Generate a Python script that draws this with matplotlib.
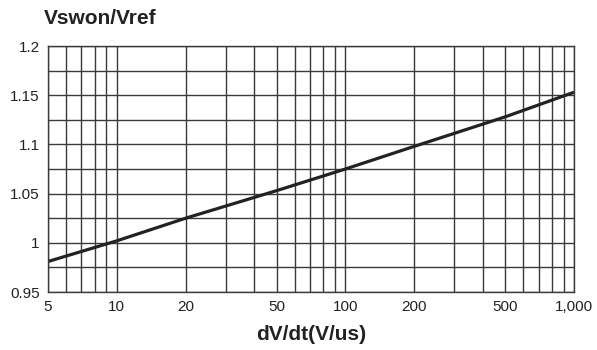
import numpy as np
import matplotlib.pyplot as plt
from matplotlib.ticker import FixedLocator, FixedFormatter, NullFormatter

plt.rcParams['font.family'] = ['Liberation Sans', 'DejaVu Sans']

# curve
dvdt = [5, 10, 20, 50, 100, 200, 500, 1000]
ratio = [0.981, 1.002, 1.025, 1.053, 1.075, 1.098, 1.128, 1.153]

x_ticks = [5, 10, 20, 50, 100, 200, 500, 1000]
x_labels = ['5', '10', '20', '50', '100', '200', '500', '1,000']
x_minor = [6, 7, 8, 9, 30, 40, 60, 70, 80, 90, 300, 400, 600, 700, 800, 900]
y_ticks = [0.95, 1.0, 1.05, 1.1, 1.15, 1.2]
y_labels = ['0.95', '1', '1.05', '1.1', '1.15', '1.2']
y_minor = [0.975, 1.025, 1.075, 1.125, 1.175]

fig = plt.figure(figsize=(5.97, 3.5), dpi=100)
ax = fig.add_axes([48 / 597, 1 - 292 / 350, (574 - 48) / 597, (292 - 46) / 350])

ax.set_xscale('log')
ax.plot(dvdt, ratio, color='#222222', lw=2.3, solid_capstyle='butt')
ax.set_xlim(5, 1000)
ax.set_ylim(0.95, 1.2)

ax.xaxis.set_major_locator(FixedLocator(x_ticks))
ax.xaxis.set_major_formatter(FixedFormatter(x_labels))
ax.xaxis.set_minor_locator(FixedLocator(x_minor))
ax.xaxis.set_minor_formatter(NullFormatter())
ax.yaxis.set_major_locator(FixedLocator(y_ticks))
ax.yaxis.set_major_formatter(FixedFormatter(y_labels))
ax.yaxis.set_minor_locator(FixedLocator(y_minor))

ax.grid(True, which='both', color='#3a3a3a', lw=1.0)
ax.set_axisbelow(True)
ax.tick_params(which='both', length=0, labelsize=11, colors='#222222', pad=6)
for s in ax.spines.values():
    s.set_color('#3a3a3a')
    s.set_linewidth(1.0)

fig.text(44 / 597, 1 - 19 / 350, 'Vswon/Vref', fontsize=15, fontweight='bold',
         color='#222222', va='center', ha='left')
fig.text(311 / 597, 1 - 334 / 350, 'dV/dt(V/us)', fontsize=15, fontweight='bold',
         color='#222222', va='center', ha='center')

fig.savefig('out.png', dpi=100)
